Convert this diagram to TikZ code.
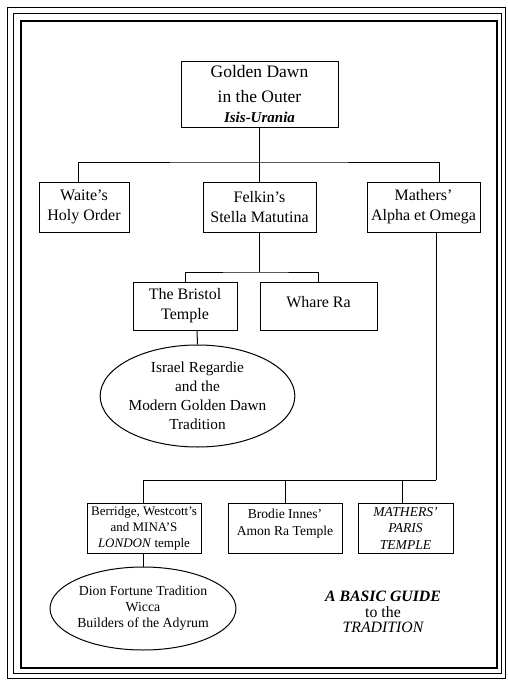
\documentclass[tikz,border=0pt]{standalone}
\usepackage{fontspec}
\setmainfont{Liberation Serif}
\usetikzlibrary{shapes.geometric,calc}
\begin{document}
\begin{tikzpicture}[x=1pt,y=-1pt,
  box/.style={draw, line width=1pt, inner sep=0pt, align=center},
  oval/.style={draw, ellipse, line width=1pt, inner sep=0pt, align=center},
  link/.style={line width=1pt},
  frameline/.style={line width=0.8pt},
  big/.style={font=\fontsize{17.5}{25}\selectfont},
  mid/.style={font=\fontsize{16}{20}\selectfont},
  small/.style={font=\fontsize{13.6}{16.5}\selectfont, align=center}]
\useasboundingbox (0,0) rectangle (507,680);
% frame
\draw[frameline] (7,7) rectangle (505,678);
\draw[frameline] (13,13) rectangle (501,673);
\draw[line width=1.3pt] (21,21) rectangle (497,668);

% top
\node[box, big, minimum width=157pt, minimum height=66pt] (gd) at (259.5,94)
  {Golden Dawn\\in the Outer\\[-5pt]{\fontsize{15}{18}\selectfont\bfseries\itshape Isis-Urania}};

% second row
\node[box, mid, minimum width=90pt, minimum height=50pt] (waite) at (84,207) {Waite's\\Holy Order};
\node[box, mid, minimum width=113pt, minimum height=50pt] (felkin) at (259.5,207) {Felkin's\\Stella Matutina};
\node[box, mid, minimum width=113pt, minimum height=50pt] (mathers) at (423.5,207) {Mathers'\\Alpha et Omega};

% third row
\node[box, mid, minimum width=104pt, minimum height=48pt] (bristol) at (185,306) {The Bristol\\Temple};
\node[box, minimum width=117pt, minimum height=48pt] (whare) at (318.5,306) {};
\node[mid] (whareT) at (318.5,302) {Whare Ra};

\node[oval, font=\fontsize{15.3}{19}\selectfont, minimum width=180pt, minimum height=102pt] (regardie) at (197.5,396)
  {Israel Regardie\\and the\\Modern Golden Dawn\\Tradition};

% bottom row
\node[box, font=\fontsize{13}{16}\selectfont, minimum width=114pt, minimum height=50pt] (berridge) at (144,528)
  {Berridge, Westcott's\\and MINA'S\\\textit{LONDON} temple};
\node[box, minimum width=114pt, minimum height=50pt] (brodie) at (285,528) {};
\node[small] (brodieT) at (285,523.5) {Brodie Innes'\\Amon Ra Temple};
\node[box, small, minimum width=95pt, minimum height=50pt] (paris) at (405.5,528)
  {\itshape MATHERS'\\\itshape PARIS\\\itshape TEMPLE};

\node[oval, font=\fontsize{13.8}{16}\selectfont, minimum width=150pt, minimum height=83pt] (fortune) at (143,608.5)
  {Dion Fortune Tradition\\Wicca\\Builders of the Adyrum};

\node[align=center, font=\fontsize{15.8}{15.5}\selectfont] (guide) at (383,612)
  {{\bfseries\itshape A BASIC GUIDE}\\to the\\{\itshape TRADITION}};

% connectors
\coordinate (j1) at (259.5,162);
\draw[link] (gd.south) -- (felkin.north);
\draw[link] ([xshift=-6pt]waite.north) |- (j1) -| ([xshift=15.5pt]mathers.north);

\coordinate (j2) at (259.5,272);
\draw[link] (felkin.south) -- (j2);
\draw[link] (bristol.north) |- (j2) -| (whare.north);
\draw[link] ([xshift=12pt]bristol.south) -- (regardie.north);

\coordinate (j3) at (436,480);
\draw[link] ([xshift=12.5pt]mathers.south) -- (j3);
\draw[link] (j3) -| ([xshift=-1pt]berridge.north);
\draw[link] (brodie.north) |- (j3);
\draw[link] ([xshift=-3pt]paris.north) |- (j3);
\draw[link] ([xshift=-1pt]berridge.south) -- (fortune.north);
\end{tikzpicture}
\end{document}
